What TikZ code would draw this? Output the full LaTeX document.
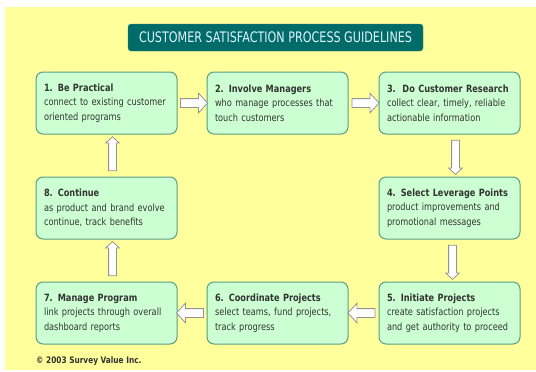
\documentclass[tikz,border=0pt]{standalone}
\usepackage{fontspec}
\setmainfont{DejaVu Sans}[FakeStretch=0.82]
\newfontfamily\titlefont{DejaVu Sans}[FakeStretch=0.77]
\usetikzlibrary{positioning,shapes.arrows,calc}
\definecolor{panel}{HTML}{FFFF9C}
\definecolor{boxfill}{HTML}{CCFFD2}
\definecolor{boxline}{HTML}{5A9E8A}
\definecolor{headteal}{HTML}{006B68}
\definecolor{bodytext}{HTML}{333333}
\tikzset{stepbox/.style = {draw=boxline, fill=boxfill, line width=1pt, rounded corners=7pt,
                           minimum width=141pt, minimum height=62pt, text width=125pt,
                           align=left, inner sep=0pt, text=bodytext,
                           font=\fontsize{10}{14.5}\selectfont},
         titlebox/.style = {draw=boxline!70!headteal, fill=headteal, rounded corners=3pt,
                            minimum width=295pt, minimum height=27pt, inner sep=0pt,
                            text=white!88!cyan, font=\titlefont\fontsize{14.5}{15}\selectfont},
         flow/.style = {single arrow, draw=gray!85, fill=white, line width=0.8pt,
                        inner xsep=0pt, minimum width=0pt,
                        single arrow tip angle=95, sloped, allow upside down},
         hflow/.style = {flow, minimum height=27pt, inner ysep=4pt, single arrow head extend=5.5pt},
         vflow/.style = {flow, minimum height=34pt, inner ysep=3.5pt, single arrow head extend=3pt}}

\begin{document}
\begin{tikzpicture}[x=1pt, y=-1pt]
    \useasboundingbox (0,0) rectangle (536,372);
    \fill[white] (0,0) rectangle (536,372);
    \fill[panel] (5,7) rectangle (536,370);

    \node[titlebox] (title) at (275.5,37.5) {CUSTOMER SATISFACTION PROCESS GUIDELINES};

    \node[stepbox] (b1) at (106.5,103) {\textbf{1. Be Practical}\\connect to existing customer\\oriented programs};
    \node[stepbox, right=29pt of b1] (b2) {\textbf{2. Involve Managers}\\who manage processes that\\touch customers};
    \node[stepbox, right=30pt of b2] (b3) {\textbf{3.\ \ Do Customer Research}\\collect clear, timely, reliable\\actionable information};
    \node[stepbox, below=42pt of b3] (b4) {\textbf{4. Select Leverage Points}\\product improvements and\\promotional messages};
    \node[stepbox, below=42pt of b4] (b5) {\textbf{5. Initiate Projects}\\create satisfaction projects\\and get authority to proceed};
    \node[stepbox, left=30pt of b5] (b6) {\textbf{6. Coordinate Projects}\\select teams, fund projects,\\track progress};
    \node[stepbox, left=29pt of b6] (b7) {\textbf{7. Manage Program}\\link projects through overall\\dashboard reports};
    \node[stepbox, above=42pt of b7] (b8) {\textbf{8. Continue}\\as product and brand evolve\\continue, track benefits};

    % block arrows between the steps
    \path (b1) -- node[hflow] {} (b2);
    \path (b2) -- node[hflow] {} (b3);
    \path ([xshift=6pt]b3.south) -- node[vflow] {} ([xshift=6pt]b4.north);
    \path ([xshift=3pt]b4.south) -- node[vflow] {} ([xshift=3pt]b5.north);
    \path (b5) -- node[hflow] {} (b6);
    \path (b6) -- node[hflow] {} (b7);
    \path ([xshift=6pt]b7.north) -- node[vflow] {} ([xshift=6pt]b8.south);
    \path ([xshift=6pt]b8.north) -- node[vflow] {} ([xshift=6pt]b1.south);

    \node[anchor=west, inner sep=0pt, text=bodytext, font=\bfseries\fontsize{9}{10}\selectfont] (copy) at (36,361) {\textcopyright\ 2003 Survey Value Inc.};
\end{tikzpicture}
\end{document}
